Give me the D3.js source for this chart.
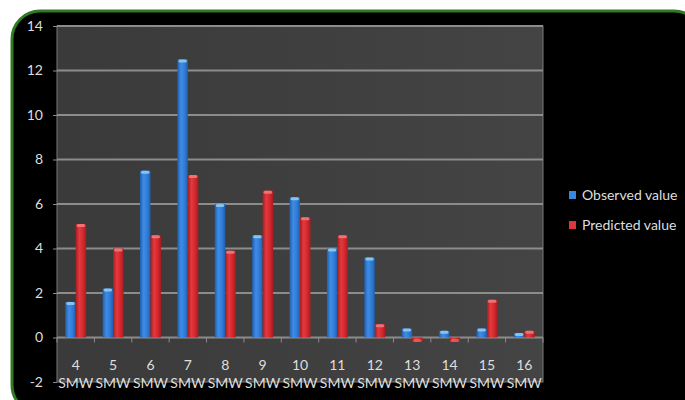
<!DOCTYPE html>
<html>
<head>
<meta charset="utf-8">
<script src="https://cdn.jsdelivr.net/npm/d3@7"></script>
<style>
  html, body { margin: 0; padding: 0; background: #ffffff; }
  svg { display: block; }
</style>
</head>
<body>
<svg id="chart" width="685" height="400"></svg>
<script>
// Weekly values: observed vs. predicted, by standard meteorological week
const weeks = ["4", "5", "6", "7", "8", "9", "10", "11", "12", "13", "14", "15", "16"];
const weekSuffix = "SMW";
const observed = [1.6, 2.2, 7.5, 12.5, 6.0, 4.6, 6.3, 4.0, 3.6, 0.4, 0.3, 0.4, 0.2];
const predicted = [5.1, 4.0, 4.6, 7.3, 3.9, 6.6, 5.4, 4.6, 0.6, -0.2, -0.2, 1.7, 0.3];
const seriesNames = ["Observed value", "Predicted value"];
const yTicks = [-2, 0, 2, 4, 6, 8, 10, 12, 14];

const svg = d3.select("#chart");
const plot = { left: 57, right: 543, top: 26, bottom: 382 };
const labelFont = "Lato, 'Open Sans', sans-serif";
const textColor = "#dedede";

// Gradients for the column faces
const defs = svg.append("defs");
function barGradient(id, dark, mid, light) {
  const g = defs.append("linearGradient").attr("id", id)
    .attr("x1", "0%").attr("x2", "100%").attr("y1", "0%").attr("y2", "0%");
  g.append("stop").attr("offset", "0%").attr("stop-color", dark);
  g.append("stop").attr("offset", "35%").attr("stop-color", light);
  g.append("stop").attr("offset", "70%").attr("stop-color", mid);
  g.append("stop").attr("offset", "100%").attr("stop-color", dark);
}
barGradient("gBlue", "#1f5fae", "#2f7bd6", "#3f8ce6");
barGradient("gRed", "#a81c20", "#d3272c", "#e23a3e");

const bgGrad = defs.append("linearGradient").attr("id", "gPlot")
  .attr("x1", "0%").attr("x2", "100%").attr("y1", "0%").attr("y2", "0%");
bgGrad.append("stop").attr("offset", "0%").attr("stop-color", "#3a3a3a");
bgGrad.append("stop").attr("offset", "100%").attr("stop-color", "#444444");

// Black panel with green rounded frame
svg.append("rect")
  .attr("x", 12).attr("y", 11).attr("width", 690).attr("height", 402)
  .attr("rx", 28).attr("ry", 28)
  .attr("fill", "#000000")
  .attr("stroke", "#2f7a22").attr("stroke-width", 3);

// Scales
const x = d3.scaleBand().domain(weeks)
  .range([plot.left, plot.right])
  .paddingInner(0.44).paddingOuter(0.22);
const step = x.step();
const xs = d3.scaleBand().domain(seriesNames).range([0, x.bandwidth()]);
const y = d3.scaleLinear().domain([-2, 14]).range([plot.bottom, plot.top]);

// Plot area
svg.append("rect")
  .attr("x", plot.left).attr("y", plot.top)
  .attr("width", plot.right - plot.left).attr("height", plot.bottom - plot.top)
  .attr("fill", "url(#gPlot)")
  .attr("stroke", "#7a7a7a").attr("stroke-width", 1);

// Horizontal gridlines
svg.append("g")
  .selectAll("line")
  .data(yTicks.filter(d => d > 0))
  .join("line")
  .attr("x1", plot.left).attr("x2", plot.right)
  .attr("y1", d => y(d)).attr("y2", d => y(d))
  .attr("stroke", "#8c8c8c").attr("stroke-width", 2);

// Y axis labels (plain hyphen for negatives)
const yAxis = d3.axisLeft(y).tickValues(yTicks).tickSize(4).tickPadding(10).tickFormat(d => String(d));
const yG = svg.append("g").attr("transform", `translate(${plot.left},0)`).call(yAxis);
yG.select(".domain").remove();
yG.selectAll(".tick line").attr("stroke", "#8c8c8c");
yG.selectAll(".tick text")
  .attr("fill", textColor)
  .style("font-family", labelFont)
  .style("font-size", "14px");

// Zero line with category tick marks
svg.append("line")
  .attr("x1", plot.left).attr("x2", plot.right)
  .attr("y1", y(0)).attr("y2", y(0))
  .attr("stroke", "#8c8c8c").attr("stroke-width", 2);
svg.append("g")
  .selectAll("line")
  .data(d3.range(weeks.length + 1))
  .join("line")
  .attr("x1", i => plot.left + i * step).attr("x2", i => plot.left + i * step)
  .attr("y1", y(0)).attr("y2", y(0) + 5)
  .attr("stroke", "#8c8c8c").attr("stroke-width", 1);

// Columns
const rows = weeks.map((w, i) => ({ week: w, values: [observed[i], predicted[i]] }));
const fills = ["url(#gBlue)", "url(#gRed)"];
const caps = ["#8fcaf2", "#f07a7c"];
const groups = svg.append("g").selectAll("g")
  .data(rows).join("g")
  .attr("transform", d => `translate(${x(d.week)},0)`);
groups.selectAll("rect.bar")
  .data(d => d.values.map((v, k) => ({ v, k })))
  .join("rect").attr("class", "bar")
  .attr("x", d => xs(seriesNames[d.k]))
  .attr("width", xs.bandwidth())
  .attr("y", d => y(Math.max(0, d.v)))
  .attr("height", d => Math.abs(y(d.v) - y(0)))
  .attr("fill", d => fills[d.k]);
groups.selectAll("rect.cap")
  .data(d => d.values.map((v, k) => ({ v, k })))
  .join("rect").attr("class", "cap")
  .attr("x", d => xs(seriesNames[d.k]) + 1)
  .attr("width", xs.bandwidth() - 2)
  .attr("y", d => d.v >= 0 ? y(d.v) : y(d.v) - 3)
  .attr("height", 3)
  .attr("rx", 1.5)
  .attr("fill", d => caps[d.k])
  .attr("opacity", d => d.v >= 0 ? 0.9 : 0.5);

// Category labels: week number above "SMW"
const labels = svg.append("g")
  .style("font-family", labelFont)
  .style("font-size", "14px")
  .attr("fill", textColor)
  .attr("text-anchor", "middle");
labels.selectAll("text.num")
  .data(weeks).join("text").attr("class", "num")
  .attr("x", d => x(d) + x.bandwidth() / 2)
  .attr("y", 370)
  .text(d => d);
labels.selectAll("text.unit")
  .data(weeks).join("text").attr("class", "unit")
  .attr("x", d => x(d) + x.bandwidth() / 2)
  .attr("y", 388)
  .text(weekSuffix);

// Legend
const legend = svg.append("g").attr("transform", "translate(569,195)");
const legendColors = ["#3a87e0", "#e0363a"];
const li = legend.selectAll("g").data(seriesNames).join("g")
  .attr("transform", (d, i) => `translate(0,${i * 30})`);
li.append("rect").attr("x", 0).attr("y", -4).attr("width", 7).attr("height", 8)
  .attr("fill", (d, i) => legendColors[i]);
li.append("text").attr("x", 13).attr("y", 0).attr("dy", "0.35em")
  .attr("fill", textColor)
  .style("font-family", labelFont)
  .style("font-size", "14px")
  .text(d => d);
</script>
</body>
</html>
